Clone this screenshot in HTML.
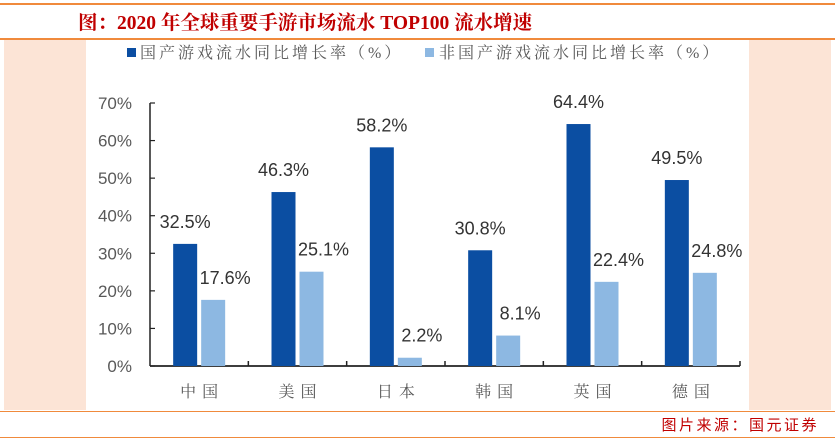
<!DOCTYPE html>
<html><head><meta charset="utf-8">
<style>
html,body{margin:0;padding:0;background:#fff;}
body{width:835px;height:443px;position:relative;overflow:hidden;font-family:"Liberation Sans","Noto Sans CJK SC",sans-serif;}
.line{position:absolute;left:0;width:835px;height:2px;background:#f08a3c;}
#title{position:absolute;left:78px;top:7px;font-family:"Liberation Serif","Noto Serif CJK SC",serif;font-weight:bold;font-size:19.5px;color:#c00000;white-space:nowrap;}
.peach{position:absolute;background:#fce4d6;}
#source{position:absolute;right:16px;top:414px;font-size:15px;color:#c00000;letter-spacing:2.5px;font-family:"Liberation Sans","Noto Sans CJK SC",sans-serif;}
svg{position:absolute;left:0;top:0;}
</style></head><body>
<div class="line" style="top:3px"></div>
<div id="title">图：2020 年全球重要手游市场流水 TOP100 流水增速</div>
<div class="line" style="top:38px"></div>
<div class="peach" style="left:4px;top:40px;width:82px;height:370px"></div>
<div class="peach" style="left:749px;top:40px;width:82px;height:370px"></div>
<div class="line" style="top:411px;height:1px"></div>
<div id="source">图片来源：国元证券</div>
<div class="line" style="top:437px;height:1px"></div>
<svg id="chart" width="835" height="443"></svg>
<script>
const categories=["中国","美国","日本","韩国","英国","德国"];
const domestic=[32.5,46.3,58.2,30.8,64.4,49.5];
const foreign=[17.6,25.1,2.2,8.1,22.4,24.8];
const yTicks=[0,10,20,30,40,50,60,70];
const yTickLabels=["0%","10%","20%","30%","40%","50%","60%","70%"];

const NS="http://www.w3.org/2000/svg";
const svg=document.getElementById('chart');
const x0=150,x1=740,yBase=366,yTop=103,yMax=70;
const catW=(x1-x0)/categories.length;
function xScale(i){return x0+i*catW;}
function yScale(v){return yBase-(v/yMax)*(yBase-yTop);}
function mk(tag,attrs){const e=document.createElementNS(NS,tag);for(const k in attrs)e.setAttribute(k,attrs[k]);svg.appendChild(e);return e;}

let l1=mk('rect',{x:127,y:48,width:9,height:9,fill:'#0b4ea2'});


let lt1=mk('text',{x:140,y:58,'font-size':16,fill:'#595959','letter-spacing':'3','font-family':'"Liberation Serif","Noto Serif CJK SC",serif'});
lt1.textContent='国产游戏流水同比增长率（%）';


let l2=mk('rect',{x:425,y:48,width:9,height:9,fill:'#8db8e2'});


let lt2=mk('text',{x:439,y:58,'font-size':16,fill:'#595959','letter-spacing':'3','font-family':'"Liberation Serif","Noto Serif CJK SC",serif'});
lt2.textContent='非国产游戏流水同比增长率（%）';



let ya=mk('line',{x1:x0,y1:yTop,x2:x0,y2:yBase,stroke:'#222','stroke-width':1.5});


yTicks.forEach((v,i)=>{
  const y=yScale(v);
  mk('line',{x1:x0,y1:y,x2:x0+5,y2:y,stroke:'#222','stroke-width':1.2});
  const t=mk('text',{x:132,y:y+6,'text-anchor':'end','font-size':17,fill:'#595959'});
  t.textContent=yTickLabels[i];
  
  
});
let xa=mk('line',{x1:x0,y1:yBase,x2:x1,y2:yBase,stroke:'#222','stroke-width':1.8});


for(let i=1;i<=categories.length;i++){
  const x=xScale(i);
  mk('line',{x1:x,y1:yBase,x2:x,y2:yBase-5,stroke:'#222','stroke-width':1.5});
}
categories.forEach((c,i)=>{
  const cx=xScale(i)+catW/2;
  const bw=24,gap=4;
  const dx=cx-gap/2-bw, fx=cx+gap/2;
  const b1=mk('rect',{x:dx,y:yScale(domestic[i]),width:bw,height:yBase-yScale(domestic[i]),fill:'#0b4ea2'});
  
  
  const b2=mk('rect',{x:fx,y:yScale(foreign[i]),width:bw,height:yBase-yScale(foreign[i]),fill:'#8db8e2'});
  
  
  const t1=mk('text',{x:dx+bw/2,y:yScale(domestic[i])-16,'text-anchor':'middle','font-size':18,fill:'#333'});
  t1.textContent=domestic[i].toFixed(1)+'%';
  
  
  const t2=mk('text',{x:fx+bw/2+12,y:yScale(foreign[i])-16,'text-anchor':'middle','font-size':18,fill:'#333'});
  t2.textContent=foreign[i].toFixed(1)+'%';
  
  
  const ct=mk('text',{x:cx+3,y:397,'text-anchor':'middle','font-size':16,fill:'#595959','letter-spacing':'6','font-family':'"Liberation Serif","Noto Serif CJK SC",serif'});
  ct.textContent=c;
  
  
});
</script>
</body></html>
